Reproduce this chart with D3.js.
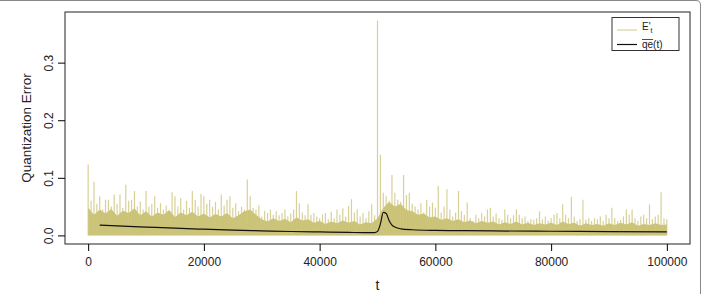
<!DOCTYPE html>
<html>
<head>
<meta charset="utf-8">
<script src="https://d3js.org/d3.v7.min.js"></script>
<style>
  body { margin: 0; background: #fff; }
  text { font-family: "Liberation Sans", Arial, sans-serif; fill: #222; }
</style>
</head>
<body>
<svg id="vis"></svg>
<script>
    const spikeStep = 500
    const spikes = [
        0.123, 0.06, 0.093, 0.055, 0.068, 0.045, 0.062, 0.062, 0.05, 0.071,
        0.055, 0.071, 0.048, 0.088, 0.06, 0.062, 0.077, 0.05, 0.059, 0.045,
        0.077, 0.05, 0.055, 0.068, 0.048, 0.056, 0.045, 0.052, 0.042, 0.075,
        0.068, 0.05, 0.065, 0.045, 0.06, 0.048, 0.077, 0.062, 0.05, 0.072,
        0.068, 0.055, 0.062, 0.05, 0.058, 0.045, 0.071, 0.052, 0.062, 0.068,
        0.048, 0.056, 0.042, 0.05, 0.045, 0.097, 0.068, 0.048, 0.045, 0.052,
        0.033, 0.043, 0.039, 0.045, 0.036, 0.042, 0.035, 0.039, 0.045, 0.033,
        0.038, 0.045, 0.077, 0.056, 0.04, 0.035, 0.054, 0.036, 0.039, 0.033,
        0.03, 0.036, 0.039, 0.028, 0.041, 0.03, 0.045, 0.036, 0.047, 0.033,
        0.051, 0.063, 0.04, 0.045, 0.033, 0.039, 0.03, 0.042, 0.054, 0.035,
        0.373, 0.14, 0.074, 0.068, 0.06, 0.105, 0.074, 0.062, 0.058, 0.105,
        0.07, 0.074, 0.055, 0.05, 0.045, 0.056, 0.04, 0.062, 0.05, 0.057,
        0.048, 0.086, 0.04, 0.05, 0.08, 0.045, 0.033, 0.04, 0.077, 0.042,
        0.036, 0.057, 0.03, 0.025, 0.036, 0.03, 0.039, 0.033, 0.045, 0.048,
        0.033, 0.038, 0.03, 0.027, 0.045, 0.036, 0.03, 0.035, 0.045, 0.036,
        0.03, 0.033, 0.025, 0.028, 0.027, 0.03, 0.042, 0.028, 0.033, 0.026,
        0.03, 0.036, 0.039, 0.03, 0.054, 0.036, 0.03, 0.067, 0.033, 0.025,
        0.028, 0.062, 0.027, 0.03, 0.025, 0.03, 0.028, 0.033, 0.025, 0.036,
        0.03, 0.048, 0.03, 0.025, 0.027, 0.033, 0.045, 0.036, 0.045, 0.03,
        0.025, 0.033, 0.036, 0.03, 0.054, 0.028, 0.033, 0.036, 0.075, 0.03,
        0.028
    ]

    // top of the dense band of E'_t, every 1000 steps
    const floorStep = 1000
    const floor = [
        0.048, 0.036, 0.045, 0.038, 0.046, 0.034, 0.043, 0.039, 0.047, 0.035,
        0.042, 0.033, 0.04, 0.036, 0.044, 0.032, 0.04, 0.035, 0.041, 0.033,
        0.038, 0.031, 0.037, 0.033, 0.039, 0.03, 0.035, 0.042, 0.045, 0.036,
        0.028, 0.024, 0.03, 0.025, 0.029, 0.023, 0.031, 0.026, 0.028, 0.022,
        0.025, 0.02, 0.024, 0.021, 0.026, 0.022, 0.025, 0.019, 0.023, 0.021,
        0.03, 0.048, 0.058, 0.05, 0.055, 0.044, 0.042, 0.036, 0.038, 0.031,
        0.033, 0.027, 0.03, 0.025, 0.028, 0.023, 0.026, 0.021, 0.025, 0.022,
        0.024, 0.019, 0.023, 0.02, 0.024, 0.019, 0.022, 0.018, 0.021, 0.019,
        0.022, 0.018, 0.024, 0.02, 0.022, 0.017, 0.021, 0.018, 0.02, 0.017,
        0.021, 0.018, 0.022, 0.019, 0.023, 0.017, 0.02, 0.018, 0.021, 0.018,
        0.019
    ]

    // mean quantization error qe(t)
    const qeT = [2000, 5000, 10000, 15000, 20000, 25000, 30000, 35000, 40000, 45000,
        48000, 49500, 50000, 50500, 51000, 51500, 52000, 52500, 53000, 54000,
        56000, 60000, 65000, 70000, 80000, 90000, 100000]
    const qeV = [0.018, 0.0165, 0.0145, 0.0125, 0.0108, 0.0092, 0.008, 0.0068, 0.006, 0.0052,
        0.0048, 0.005, 0.007, 0.02, 0.04, 0.038, 0.026, 0.018, 0.0145, 0.0115,
        0.0098, 0.0087, 0.0082, 0.0078, 0.0072, 0.0067, 0.0062]

    const xTicks = [0, 20000, 40000, 60000, 80000, 100000]
    const yTicks = [0, 0.1, 0.2, 0.3]

    const W = 715, H = 294
    const pl = 65, pr = 690, pt = 12, pb = 244

    let svg = d3.select('#vis')
        .attr('width', W)
        .attr('height', H)

    let x = d3.scaleLinear().domain([-4000, 104000]).range([pl, pr])
    let y = d3.scaleLinear().domain([-0.0149, 0.3879]).range([pb, pt])

    // figure frame
    svg.append('path')
        .attr('d', 'M0,0.5 H696 Q700.5,0.5 700.5,5 V294')
        .attr('fill', 'none')
        .attr('stroke', '#888')

    const olive = '#cbc377'

    // dense band
    svg.append('path')
        .datum(floor)
        .attr('fill', olive)
        .attr('d', d3.area()
            .x((d, i) => x(i * floorStep))
            .y0(y(0))
            .y1(d => y(d)))

    // spikes
    svg.append('g')
        .selectAll('line')
        .data(spikes)
        .enter().append('line')
        .attr('x1', (d, i) => x(i * spikeStep))
        .attr('x2', (d, i) => x(i * spikeStep))
        .attr('y1', y(0))
        .attr('y2', d => y(d))
        .attr('stroke', '#cdc57c')
        .attr('stroke-opacity', 0.8)
        .attr('stroke-width', 1.2)

    // qe(t)
    svg.append('path')
        .datum(qeT.map((t, i) => [t, qeV[i]]))
        .attr('fill', 'none')
        .attr('stroke', '#111')
        .attr('stroke-width', 1.2)
        .attr('d', d3.line()
            .x(d => x(d[0]))
            .y(d => y(d[1]))
            .curve(d3.curveMonotoneX))

    // box
    svg.append('rect')
        .attr('x', pl).attr('y', pt)
        .attr('width', pr - pl).attr('height', pb - pt)
        .attr('fill', 'none')
        .attr('stroke', '#222')

    // x axis
    let xAxis = svg.append('g')
        .attr('transform', `translate(0,${pb})`)
        .call(d3.axisBottom(x).tickValues(xTicks).tickFormat(d3.format('d')).tickSizeOuter(0).tickSize(7).tickPadding(6))
    xAxis.select('.domain').attr('stroke', 'none')
    xAxis.selectAll('text').style('font-size', '12px').attr('fill', '#222')

    // y axis
    let yAxis = svg.append('g')
        .attr('transform', `translate(${pl},0)`)
        .call(d3.axisLeft(y).tickValues(yTicks).tickFormat(d3.format('.1f')).tickSize(7))
    yAxis.select('.domain').attr('stroke', 'none')
    yAxis.selectAll('.tick text')
        .attr('x', 0).attr('dy', 0)
        .attr('transform', 'translate(-12,0) rotate(-90)')
        .attr('text-anchor', 'middle')
        .style('font-size', '12px')
        .attr('fill', '#222')

    svg.append('text')
        .attr('x', (pl + pr) / 2)
        .attr('y', 290)
        .attr('text-anchor', 'middle')
        .style('font-size', '14px')
        .text('t')

    svg.append('text')
        .attr('transform', `translate(31,${(pt + pb) / 2}) rotate(-90)`)
        .attr('text-anchor', 'middle')
        .style('font-size', '13.5px')
        .text('Quantization Error')

    // legend
    let lg = svg.append('g')
    lg.append('rect')
        .attr('x', 612).attr('y', 17.5)
        .attr('width', 67).attr('height', 33)
        .attr('fill', '#fff').attr('stroke', '#333')
    lg.append('line')
        .attr('x1', 617).attr('x2', 637).attr('y1', 30).attr('y2', 30)
        .attr('stroke', '#d8d29a').attr('stroke-width', 1.2)
    lg.append('line')
        .attr('x1', 617).attr('x2', 637).attr('y1', 44.5).attr('y2', 44.5)
        .attr('stroke', '#111').attr('stroke-width', 1.2)
    let e = lg.append('text').attr('x', 642).attr('y', 30).style('font-size', '10px')
    e.append('tspan').text("E'")
    e.append('tspan').attr('dy', 3).style('font-size', '7px').text('t')
    let q = lg.append('text').attr('x', 642).attr('y', 48).style('font-size', '10px').text('qe(t)')
    let qw = q.node().getSubStringLength(0, 2)
    lg.append('line')
        .attr('x1', 642).attr('x2', 642 + qw)
        .attr('y1', 39.5).attr('y2', 39.5)
        .attr('stroke', '#222').attr('stroke-width', 0.8)
</script>
</body>
</html>
